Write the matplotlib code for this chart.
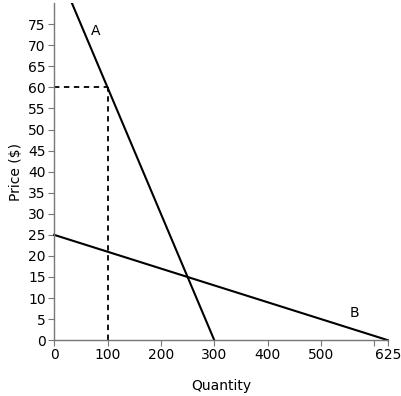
import matplotlib
matplotlib.use("Agg")
import matplotlib.pyplot as plt
import numpy as np

# demand curves
a_q = [0, 300]
a_p = [90, 0]
b_q = [0, 625]
b_p = [25, 0]

x_ticks = [0, 100, 200, 300, 400, 500, 600, 625]
x_labels = ["0", "100", "200", "300", "400", "500", "", "625"]
y_ticks = list(range(0, 80, 5))

plt.rcParams.update({'font.size': 10, 'font.family': 'DejaVu Sans'})

fig = plt.figure(figsize=(4.01, 3.96), dpi=100)
ax = fig.add_axes([0.135, 0.141, 0.832, 0.851])

ax.plot(a_q, a_p, color='black', lw=1.5, clip_on=True)
ax.plot(b_q, b_p, color='black', lw=1.5, clip_on=False)

# dashed guide at q=100, p=60
ax.plot([0, 100], [60, 60], color='black', lw=1.3, ls=(0, (3, 2.5)))
ax.plot([100, 100], [0, 60], color='black', lw=1.3, ls=(0, (3, 2.5)))

ax.text(78, 73.5, "A", ha='center', va='center', fontsize=10)
ax.text(563, 6.4, "B", ha='center', va='center', fontsize=10)

ax.set_xlim(0, 625)
ax.set_ylim(0, 80)
ax.set_xticks(x_ticks)
ax.set_xticklabels(x_labels)
ax.set_yticks(y_ticks)

for s in ['top', 'right']:
    ax.spines[s].set_visible(False)
for s in ['left', 'bottom']:
    ax.spines[s].set_color('#777777')
    ax.spines[s].set_linewidth(1)
ax.tick_params(direction='out', length=4, color='#777777', labelsize=10, pad=2)

ax.set_xlabel("Quantity", fontsize=10, labelpad=12)
ax.set_ylabel("Price ($)", fontsize=10, labelpad=4)

fig.savefig("out.png", dpi=100)
